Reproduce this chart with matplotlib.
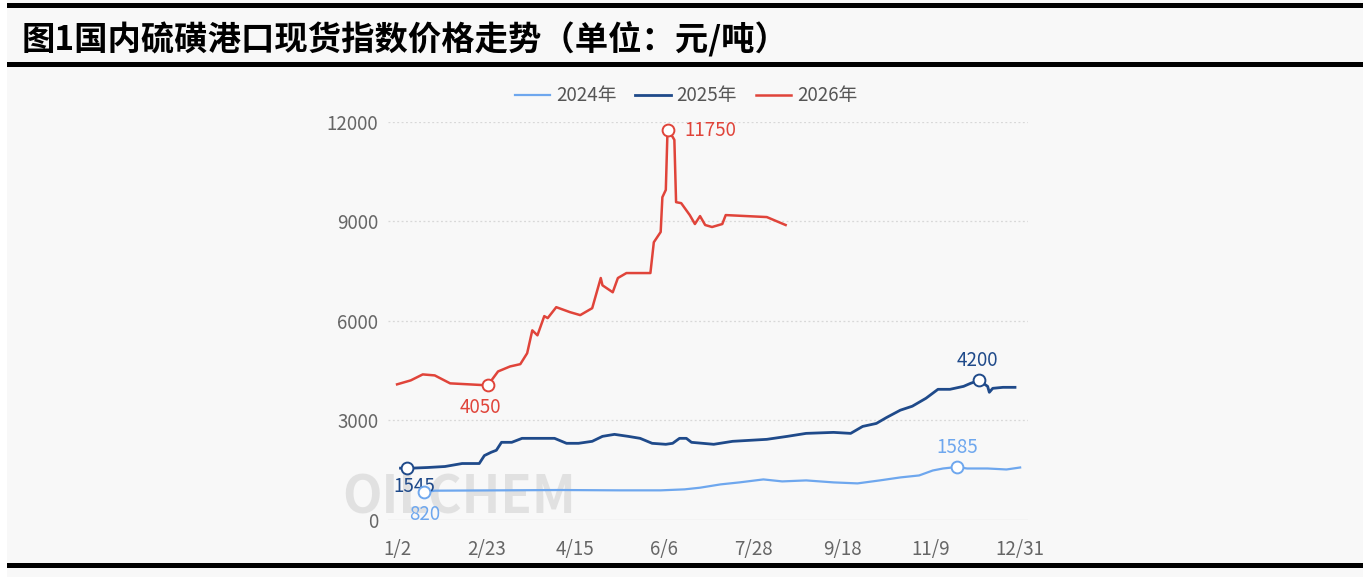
import matplotlib
matplotlib.use("Agg")
import matplotlib.pyplot as plt
from matplotlib.patches import Rectangle

plt.rcParams["font.family"] = ["Noto Sans CJK SC", "DejaVu Sans"]

W, H = 1363, 577
BG = "#f8f8f8"
C24, C25, C26 = "#6ea7ee", "#1f4a8a", "#e0443a"
TICK = "#666666"
FS = 13.5

# ── données (jours depuis le 1/2) ─────────────────────────
x_ticks = [0, 52, 104, 156, 208, 260, 312, 364]
x_labels = ["1/2", "2/23", "4/15", "6/6", "7/28", "9/18", "11/9", "12/31"]
y_ticks = [0, 3000, 6000, 9000, 12000]

days_2024 = [16, 22, 60, 95, 130, 154, 168, 177, 189, 200, 214, 225, 239,
             255, 269, 282, 294, 305, 313, 319, 327, 333, 345, 356, 364]
vals_2024 = [820, 870, 880, 890, 880, 880, 910, 960, 1060, 1120, 1210, 1150,
             1180, 1120, 1090, 1180, 1270, 1330, 1480, 1540, 1585, 1540, 1540,
             1510, 1570]

days_2025 = [2, 6, 18, 28, 38, 48, 51, 55, 58, 61, 67, 73, 92, 99, 106, 114,
             120, 127, 135, 142, 149, 157, 161, 165, 169, 172, 185, 196, 216,
             228, 239, 255, 265, 272, 280, 286, 294, 301, 309, 316, 323, 331,
             335, 340, 345, 346, 348, 354, 361]
vals_2025 = [1550, 1545, 1570, 1600, 1690, 1690, 1930, 2030, 2090, 2330, 2330,
             2450, 2450, 2300, 2300, 2360, 2510, 2570, 2510, 2450, 2300, 2270,
             2300, 2450, 2450, 2330, 2270, 2360, 2420, 2510, 2600, 2630, 2600,
             2810, 2900, 3080, 3300, 3420, 3660, 3930, 3930, 4020, 4110, 4200,
             4020, 3840, 3960, 3990, 3990]

days_2026 = [0, 8, 15, 22, 31, 53, 59, 66, 72, 76, 79, 82, 86, 88, 93, 101,
             107, 114, 119, 120, 126, 129, 134, 148, 150, 154, 155, 157, 158,
             161, 162, 163, 166, 171, 174, 177, 180, 184, 190, 192, 204, 216,
             227]
vals_2026 = [4080, 4200, 4380, 4350, 4110, 4050, 4470, 4620, 4690, 5020, 5710,
             5560, 6140, 6080, 6410, 6260, 6170, 6380, 7290, 7070, 6860, 7290,
             7440, 7440, 8370, 8680, 9730, 9950, 11750, 11550, 11460, 9580,
             9550, 9190, 8920, 9160, 8890, 8830, 8920, 9190, 9160, 9130, 8890]

series = [
    ("2024年", days_2024, vals_2024, C24, 1.6, [(0, -16), (0, 14)]),
    ("2025年", days_2025, vals_2025, C25, 2.0, [(5, -13), (-1, 14)]),
    ("2026年", days_2026, vals_2026, C26, 1.8, [(-5, -16), (12, 0)]),
]

# ── figure ────────────────────────────────────────────────
fig = plt.figure(figsize=(W / 100, H / 100), dpi=100)
fig.patch.set_facecolor("white")
fig.add_artist(Rectangle((7 / W, 0), 1, 1, transform=fig.transFigure,
                         facecolor=BG, edgecolor="none", zorder=-10))
for y0, y1 in [(3, 7.5), (62, 67), (563, 567.5)]:
    fig.add_artist(Rectangle((7 / W, 1 - y1 / H), 1, (y1 - y0) / H,
                             transform=fig.transFigure, facecolor="black",
                             edgecolor="none", zorder=5))

fig.text(22 / W, 1 - 40 / H, "图1国内硫磺港口现货指数价格走势（单位：元/吨）",
         fontsize=24, fontweight="bold", color="black", va="center", ha="left")

ax = fig.add_axes([388 / W, 1 - 519.5 / H, 640 / W, (519.5 - 122) / H])
ax.set_facecolor("none")
ax.set_xlim(-5.3, 368.6)
ax.set_ylim(0, 12000)
for s in ax.spines.values():
    s.set_visible(False)

for yv in y_ticks[1:]:
    ax.axhline(yv, color="#d8d8d8", lw=0.9, ls=(0, (1.5, 2)), zorder=1)
ax.axhline(0, color="#e2e2e2", lw=1.0, zorder=1)

# filigrane
ax.text(342 / W, 1 - 498 / H, "OILCHEM", transform=fig.transFigure,
        fontsize=37, fontweight="bold", color="#dcdcdc", alpha=0.8,
        va="center", ha="left", zorder=1, clip_on=False)

for label, d, v, color, lw, offs in series:
    ax.plot(d, v, color=color, lw=lw, label=label, zorder=3,
            solid_joinstyle="round")
    i_min = v.index(min(v))
    i_max = v.index(max(v))
    for i, off in zip([i_min, i_max], offs):
        ax.plot(d[i], v[i], "o", ms=8.5, mfc="white", mec=color, mew=1.4,
                zorder=4, clip_on=False)
        ha = "left" if off[0] > 8 else "center"
        ax.annotate(f"{v[i]}", (d[i], v[i]), xytext=off,
                    textcoords="offset points", ha=ha, va="center",
                    color=color, fontsize=FS)

ax.set_xticks(x_ticks, x_labels)
ax.set_yticks(y_ticks, [str(t) for t in y_ticks])
ax.tick_params(axis="both", length=0, colors=TICK, labelsize=FS)
ax.tick_params(axis="x", pad=14)
ax.tick_params(axis="y", pad=7)

handles, labels = ax.get_legend_handles_labels()
leg = fig.legend(handles, labels, loc="center", ncol=3,
                 bbox_to_anchor=(686 / W, 1 - 96 / H), frameon=False,
                 fontsize=FS, handlelength=1.9, columnspacing=1.0,
                 handletextpad=0.3)
for t in leg.get_texts():
    t.set_color("#555555")

fig.savefig("out.png", dpi=100, facecolor=fig.get_facecolor())
